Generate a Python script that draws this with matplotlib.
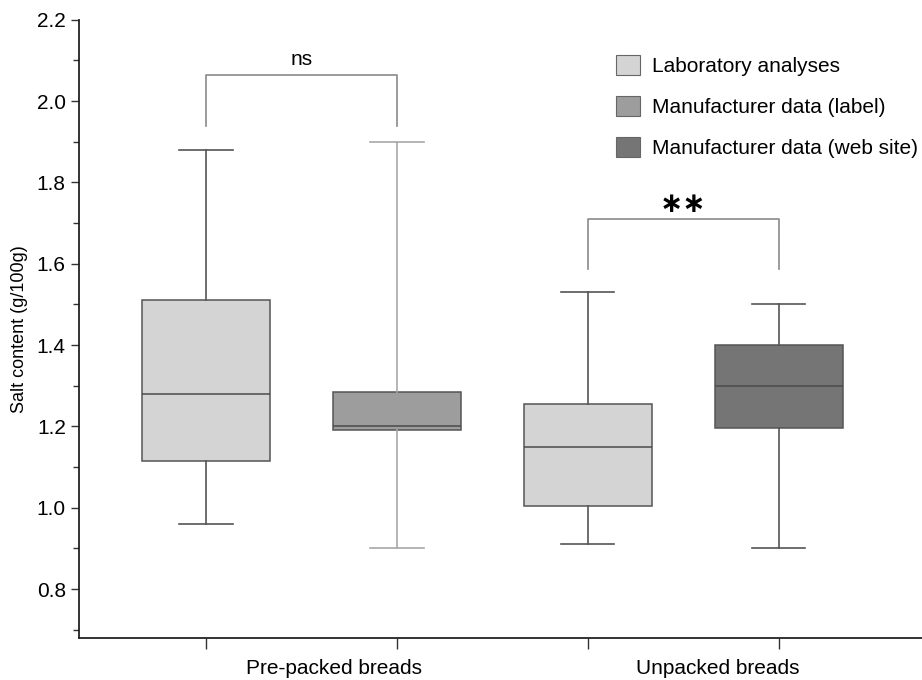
import numpy as np
import matplotlib.pyplot as plt
from matplotlib.patches import Patch
from matplotlib.ticker import MultipleLocator

plt.rcParams['font.family'] = ['Liberation Sans', 'DejaVu Sans']

# Box statistics (g/100g)
groups = ['Pre-packed breads', 'Unpacked breads']
series = ['Laboratory analyses', 'Manufacturer data (label)', 'Manufacturer data (web site)']
box_series = [0, 1, 0, 2]          # which series each box belongs to
whislo = [0.96, 0.90, 0.91, 0.90]
q1 = [1.115, 1.19, 1.005, 1.195]
med = [1.28, 1.20, 1.15, 1.30]
q3 = [1.51, 1.285, 1.255, 1.40]
whishi = [1.88, 1.90, 1.53, 1.50]

colors = ['#d4d4d4', '#9d9d9d', '#757575']
whisker_colors = ['#555555', '#a8a8a8', '#555555', '#555555']

fig = plt.figure(figsize=(9.22, 6.8), dpi=100)
ax = fig.add_axes([0.0857, 0.062, 0.914, 0.909])

positions = np.arange(1, len(med) + 1)
stats = [dict(whislo=whislo[i], q1=q1[i], med=med[i], q3=q3[i], whishi=whishi[i], fliers=[])
         for i in range(len(med))]
bp = ax.bxp(stats, positions=positions, widths=0.67, patch_artist=True,
            showfliers=False, capwidths=0.28,
            medianprops=dict(color='#4a4a4a', linewidth=1.1),
            boxprops=dict(edgecolor='#555555', linewidth=1.1))
for i, patch in enumerate(bp['boxes']):
    patch.set_facecolor(colors[box_series[i]])
for i in range(len(med)):
    for line in bp['whiskers'][2 * i:2 * i + 2] + bp['caps'][2 * i:2 * i + 2]:
        line.set_color(whisker_colors[i])
        line.set_linewidth(1.2)

# significance brackets
def bracket(x1, x2, y, drop, label, dy, **kw):
    ax.plot([x1, x1, x2, x2], [y - drop, y, y, y - drop], color='#8a8a8a', lw=1.2)
    ax.text((x1 + x2) / 2, y + dy, label, ha='center', va='center', **kw)

bracket(1, 2, 2.063, 0.125, 'ns', 0.04, fontsize=15)
bracket(3, 4, 1.711, 0.125, '\u2217\u2217', 0.037, fontsize=20, fontweight='bold',
        family='DejaVu Sans')

ax.set_xlim(0.335, 4.75)
ax.set_ylim(0.68, 2.2)
ax.yaxis.set_major_locator(MultipleLocator(0.2))
ax.yaxis.set_minor_locator(MultipleLocator(0.1))
ax.yaxis.set_major_formatter(plt.FuncFormatter(lambda v, p: f'{v:.1f}'))
ax.set_xticks(positions)
ax.set_xticklabels([])
# group labels sit a little right of the pair centre in the original
ax.set_xticks([1.67, 3.68], minor=True)
ax.set_xticklabels(groups, minor=True, fontsize=15)
ax.tick_params(axis='x', which='minor', length=0, pad=15)
ax.tick_params(axis='x', which='major', length=8, width=1, color='#333333')
ax.tick_params(axis='y', which='major', length=6, width=1, labelsize=15, color='#333333')
ax.tick_params(axis='y', which='minor', length=4, width=1, color='#333333')
ax.set_ylabel('Salt content (g/100g)', fontsize=13, labelpad=6)

for s in ['top', 'right']:
    ax.spines[s].set_visible(False)
for s in ['left', 'bottom']:
    ax.spines[s].set_linewidth(1.3)
    ax.spines[s].set_color('#222222')

handles = [Patch(facecolor=c, edgecolor='#666666', linewidth=0.8) for c in colors]
ax.legend(handles, series, loc='upper left', bbox_to_anchor=(0.668, 0.919),
          bbox_transform=fig.transFigure, frameon=False, fontsize=15,
          handlelength=1.15, handleheight=1.1, labelspacing=0.95, handletextpad=0.6,
          borderpad=0, borderaxespad=0)

fig.savefig('out.png', dpi=100)
